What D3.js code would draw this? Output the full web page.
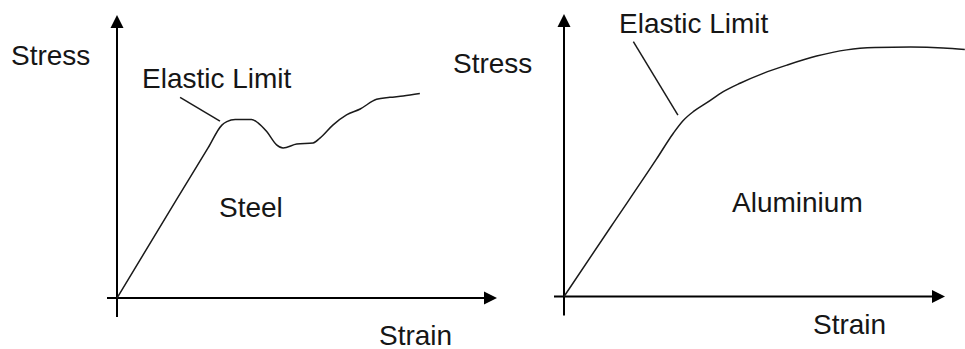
<!DOCTYPE html>
<html>
<head>
<meta charset="utf-8">
<script src="https://cdn.jsdelivr.net/npm/d3@7"></script>
<style>
  html, body { margin: 0; padding: 0; background: #fff; }
  svg { display: block; }
  text { font-family: "Liberation Sans", Arial, sans-serif; font-size: 28px; fill: #161616; }
</style>
</head>
<body>
<svg id="chart" width="965" height="349"></svg>
<script>
// stress-strain curves (strain 0-100, stress 0-100)
const steelStrain = [0, 15.5, 24.0, 27.6, 28.9, 31.1, 35.4, 37.1, 39.4, 42.0, 43.7, 47.3, 51.6, 53.4, 56.8, 60.4, 64.0, 68.3, 71.8, 75.3, 79.7];
const steelStress = [0, 34.4, 53.1, 61.1, 62.3, 63.1, 63.1, 61.9, 58.8, 54.1, 53.0, 54.4, 54.8, 56.5, 61.1, 64.7, 66.8, 70.2, 70.9, 71.4, 72.3];

const aluStrain = [0, 12.3, 24.3, 28.7, 31.3, 34.0, 37.5, 41.8, 46.2, 52.3, 58.5, 66.3, 74.2, 81.6, 91.0, 99.5, 105.2];
const aluStress = [0, 24.7, 48.7, 57.8, 62.3, 65.5, 68.6, 72.5, 75.5, 79.0, 81.9, 85.1, 87.3, 88.1, 88.3, 88.0, 87.4];

// leader lines for the "Elastic Limit" notes: [strain, stress] pairs
const steelLeader = [[16.6, 70.9], [27.1, 62.5]];
const aluLeader = [[18.2, 90.2], [29.9, 64.2]];

const panels = [
  {
    strain: steelStrain, stress: steelStress, leader: steelLeader,
    xr: [117, 497], yr: [298, 15],
    labels: [
      { t: "Stress", x: 11, y: 64.5 },
      { t: "Elastic Limit", x: 142, y: 88 },
      { t: "Steel", x: 219, y: 217 },
      { t: "Strain", x: 379, y: 345 }
    ]
  },
  {
    strain: aluStrain, stress: aluStress, leader: aluLeader,
    xr: [564, 945], yr: [296.5, 14],
    labels: [
      { t: "Stress", x: 453, y: 72.5 },
      { t: "Elastic Limit", x: 619, y: 33 },
      { t: "Aluminium", x: 732, y: 211.5 },
      { t: "Strain", x: 813, y: 333.5 }
    ]
  }
];

const svg = d3.select("#chart");

panels.forEach(function (p) {
  const x = d3.scaleLinear().domain([0, 100]).range(p.xr);
  const y = d3.scaleLinear().domain([0, 100]).range(p.yr);
  const g = svg.append("g");

  const x0 = x(0), y0 = y(0);
  const xEnd = x(100), yEnd = y(100);

  // axes, running a little past the origin
  g.append("line")
    .attr("x1", x0 - 10).attr("x2", xEnd - 12)
    .attr("y1", y0).attr("y2", y0)
    .attr("stroke", "#000").attr("stroke-width", 2);
  g.append("line")
    .attr("x1", x0).attr("x2", x0)
    .attr("y1", y0 + 19).attr("y2", yEnd + 12)
    .attr("stroke", "#000").attr("stroke-width", 2);

  // arrow heads
  g.append("path")
    .attr("d", `M${xEnd},${y0} L${xEnd - 13},${y0 - 6.5} L${xEnd - 13},${y0 + 6.5} Z`)
    .attr("fill", "#000");
  g.append("path")
    .attr("d", `M${x0},${yEnd} L${x0 - 6.5},${yEnd + 13} L${x0 + 6.5},${yEnd + 13} Z`)
    .attr("fill", "#000");

  const pts = p.strain.map((s, i) => [s, p.stress[i]]);
  const line = d3.line()
    .x(d => x(d[0]))
    .y(d => y(d[1]))
    .curve(d3.curveMonotoneX);

  g.append("path")
    .datum(pts)
    .attr("d", line)
    .attr("fill", "none")
    .attr("stroke", "#1a1a1a")
    .attr("stroke-width", 1.5);

  g.append("path")
    .datum(p.leader)
    .attr("d", d3.line().x(d => x(d[0])).y(d => y(d[1])))
    .attr("fill", "none")
    .attr("stroke", "#1a1a1a")
    .attr("stroke-width", 1.5);

  g.selectAll("text")
    .data(p.labels)
    .join("text")
    .attr("x", d => d.x)
    .attr("y", d => d.y)
    .text(d => d.t);
});
</script>
</body>
</html>
